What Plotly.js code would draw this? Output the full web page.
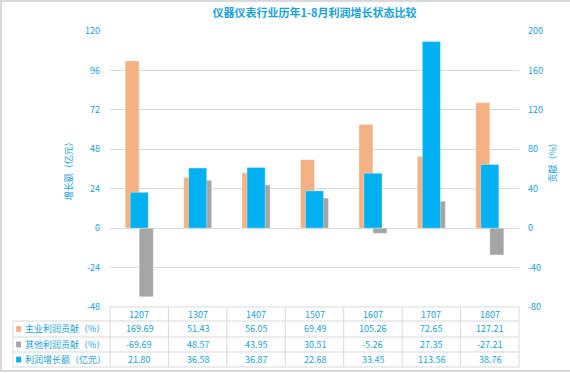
<!DOCTYPE html>
<html>
<head>
<meta charset="utf-8">
<script src="https://cdn.plot.ly/plotly-3.0.1.min.js"></script>
<style>html,body{margin:0;padding:0;background:#fff;}#chart{width:570px;height:373px;}</style>
</head>
<body>
<div id="chart"></div>
<script>
const categories = ['1207','1307','1407','1507','1607','1707','1807'];
const mainContrib = [169.69, 51.43, 56.05, 69.49, 105.26, 72.65, 127.21];
const otherContrib = [-69.69, 48.57, 43.95, 30.51, -5.26, 27.35, -27.21];
const profitGrowth = [21.80, 36.58, 36.87, 22.68, 33.45, 113.56, 38.76];
const seriesNames = ['主业利润贡献（%）', '其他利润贡献（%）', '利润增长额（亿元）'];
const leftTicks = [-48, -24, 0, 24, 48, 72, 96, 120];
const rightTicks = [-80, -40, 0, 40, 80, 120, 160, 200];

const colors = ['#F4B183', '#A5A5A5', '#00B0F0'];
const txt = '#17A2DD';
const font = '"Noto Sans CJK SC", "DejaVu Sans", sans-serif';
const numFont = '"Noto Sans CJK SC", sans-serif';
const grid = '#D9D9D9';

const traces = [
  {type:'bar', x:categories, y:mainContrib, name:seriesNames[0], yaxis:'y', width:0.24, offset:-0.24,
   marker:{color:colors[0], line:{color:'rgba(255,255,255,0.35)', width:1}}, hoverinfo:'y'},
  {type:'bar', x:categories, y:otherContrib, name:seriesNames[1], yaxis:'y', width:0.24, offset:0,
   marker:{color:colors[1], line:{color:'rgba(255,255,255,0.35)', width:1}}, hoverinfo:'y'},
  {type:'bar', x:categories, y:profitGrowth, name:seriesNames[2], yaxis:'y2', width:0.31, offset:-0.155,
   marker:{color:colors[2], line:{color:'rgba(255,255,255,0.35)', width:1}}, hoverinfo:'y'}
];

const n = categories.length;
const colCenter = i => (i + 0.5) / n;
const rowLines = [-0.0507, -0.1087, -0.163, -0.2174];
const rowCenters = [-0.0254, -0.0797, -0.1359, -0.1905];
const leftEdge = -0.2372;
const shapes = [];
const annotations = [];

shapes.push({type:'line', xref:'paper', yref:'paper', x0:0, x1:1, y0:0, y1:0, line:{color:grid, width:1}});
rowLines.forEach(y=>{
  shapes.push({type:'line', xref:'paper', yref:'paper', x0:leftEdge, x1:1, y0:y, y1:y, line:{color:grid, width:1}});
});
for (let i=0;i<=n;i++){
  shapes.push({type:'line', xref:'paper', yref:'paper', x0:i/n, x1:i/n, y0:0, y1:rowLines[3], line:{color:grid, width:1}});
}
shapes.push({type:'line', xref:'paper', yref:'paper', x0:leftEdge, x1:leftEdge, y0:rowLines[0], y1:rowLines[3], line:{color:grid, width:1}});
shapes.push({type:'rect', xref:'paper', yref:'paper', x0:-0.2665, x1:1.1345, y0:-0.232, y1:1.109, line:{color:'#D9D9D9', width:2}});

categories.forEach((c,i)=>{
  annotations.push({xref:'paper', yref:'paper', x:colCenter(i), y:rowCenters[0], text:c, showarrow:false,
    font:{family:numFont, size:9, color:txt}, xanchor:'center', yanchor:'middle'});
});
const rows = [mainContrib, otherContrib, profitGrowth];
rows.forEach((arr,r)=>{
  arr.forEach((v,i)=>{
    annotations.push({xref:'paper', yref:'paper', x:colCenter(i), y:rowCenters[r+1], text:v.toFixed(2), showarrow:false,
      font:{family:numFont, size:9, color:txt}, xanchor:'center', yanchor:'middle'});
  });
  shapes.push({type:'rect', xref:'paper', yref:'paper', x0:-0.2295, x1:-0.2175,
    y0:rowCenters[r+1]-0.0105, y1:rowCenters[r+1]+0.0105, fillcolor:colors[r], line:{width:0}});
  annotations.push({xref:'paper', yref:'paper', x:-0.2115, y:rowCenters[r+1], text:seriesNames[r], showarrow:false,
    font:{family:font, size:9, color:txt}, xanchor:'left', yanchor:'middle'});
});

annotations.push({xref:'paper', yref:'paper', x:-0.102, y:0.50, text:'增长额（亿元）', textangle:-90, showarrow:false,
  font:{family:font, size:9, color:txt}, xanchor:'center', yanchor:'middle'});
annotations.push({xref:'paper', yref:'paper', x:1.0825, y:0.53, text:'贡献（%）', textangle:-90, showarrow:false,
  font:{family:font, size:9, color:txt}, xanchor:'center', yanchor:'middle'});

const layout = {
  width:570, height:373,
  margin:{l:110, r:51, t:31, b:66, pad:0},
  paper_bgcolor:'#fff', plot_bgcolor:'#fff',
  showlegend:false,
  barmode:'overlay',
  title:{text:'<b>仪器仪表行业历年1-8月利润增长状态比较</b>', x:0.5, xref:'paper', xanchor:'center', y:0.965, yref:'container', yanchor:'middle',
    font:{family:font, size:11, color:txt}},
  xaxis:{type:'category', range:[-0.5, 6.5], showticklabels:false, showgrid:false, zeroline:false, showline:false, ticks:'', fixedrange:true},
  yaxis:{side:'right', range:[-80, 200], tickvals:rightTicks, ticktext:rightTicks.map(String), showgrid:true, gridcolor:grid, gridwidth:1,
    zeroline:false, showline:false, ticks:'', ticklabelstandoff:8,
    tickfont:{family:numFont, size:9, color:txt}},
  yaxis2:{side:'left', overlaying:'y', range:[-48, 120], tickvals:leftTicks, ticktext:leftTicks.map(String), showgrid:false,
    zeroline:false, showline:false, ticks:'', ticklabelstandoff:9,
    tickfont:{family:numFont, size:9, color:txt}},
  shapes:shapes,
  annotations:annotations
};

Plotly.newPlot('chart', traces, layout, {displayModeBar:false, staticPlot:true});
</script>
</body>
</html>
